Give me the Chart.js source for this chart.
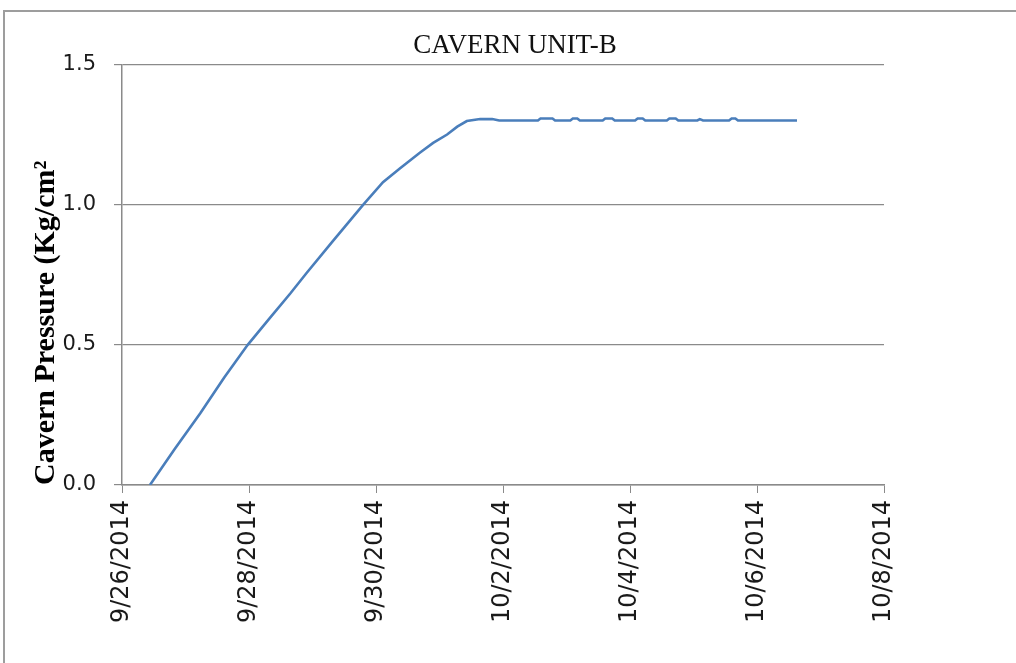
<!DOCTYPE html>
<html>
<head>
<meta charset="utf-8">
<script src="https://cdn.jsdelivr.net/npm/chart.js@4"></script>
<style>
  html, body { margin: 0; padding: 0; background: #fff; overflow: hidden; }
  #wrap { position: relative; width: 1016px; height: 663px; overflow: hidden; }
  #frame { position: absolute; left: 3px; top: 10px; width: 1100px; height: 700px; border: 2px solid #9d9d9d; }
  #chart { position: absolute; left: 0; top: 0; }
</style>
</head>
<body>
<div id="wrap">
  <div id="frame"></div>
  <canvas id="chart" width="1016" height="663"></canvas>
</div>
<script>
// readings, x as Excel serial dates (41908 = 9/26/2014)
const readingDays = [
    41908.44, 41908.83, 41909.23, 41909.61, 41909.98, 41910.33, 41910.65, 41910.91,
    41911.32, 41911.56, 41911.80, 41912.11, 41912.38, 41912.69, 41912.90, 41913.12,
    41913.28, 41913.43, 41913.64, 41913.83, 41913.94,
    41914.55, 41914.59, 41914.78, 41914.82,
    41915.06, 41915.10, 41915.17, 41915.21,
    41915.57, 41915.61, 41915.72, 41915.76,
    41916.08, 41916.12, 41916.20, 41916.24,
    41916.58, 41916.62, 41916.72, 41916.76,
    41917.06, 41917.10, 41917.15,
    41917.56, 41917.60, 41917.66, 41917.70,
    41918.63
];
const pressure = [
    0.00, 0.128, 0.255, 0.383, 0.50, 0.596, 0.683, 0.757,
    0.87, 0.935, 1.00, 1.08, 1.13, 1.185, 1.22, 1.25,
    1.278, 1.298, 1.305, 1.305, 1.30,
    1.30, 1.307, 1.307, 1.30,
    1.30, 1.307, 1.307, 1.30,
    1.30, 1.307, 1.307, 1.30,
    1.30, 1.307, 1.307, 1.30,
    1.30, 1.307, 1.307, 1.30,
    1.30, 1.305, 1.30,
    1.30, 1.307, 1.307, 1.30,
    1.30
];
const xRange = [41908, 41920];   // 9/26/2014 .. 10/8/2014
const xStep = 2;
const yRange = [0, 1.5];
const yStep = 0.5;

function serialToDate(serial) {
    const d = new Date(Date.UTC(1899, 11, 30) + Math.round(serial) * 86400000);
    return (d.getUTCMonth() + 1) + '/' + d.getUTCDate() + '/' + d.getUTCFullYear();
}

const gridGray = '#8a8a8a';

new Chart(document.getElementById('chart').getContext('2d'), {
    type: 'line',
    data: {
        datasets: [{
            data: readingDays.map((d, i) => ({ x: d, y: pressure[i] })),
            borderColor: '#4a7ebb',
            borderWidth: 2.6,
            pointRadius: 0,
            tension: 0,
            fill: false
        }]
    },
    options: {
        responsive: false,
        animation: false,
        layout: { padding: { left: 14, right: 0, top: 0, bottom: 0 } },
        plugins: {
            legend: { display: false },
            tooltip: { enabled: false },
            title: {
                display: true,
                text: 'CAVERN UNIT-B',
                color: '#111',
                font: { family: 'Liberation Serif', size: 27, weight: 'normal' },
                padding: { top: 30, bottom: 2 }
            }
        },
        scales: {
            x: {
                type: 'linear',
                min: xRange[0],
                max: xRange[1],
                afterFit: (scale) => { scale.height = 178; },
                ticks: {
                    stepSize: xStep,
                    minRotation: 90,
                    maxRotation: 90,
                    padding: 7,
                    color: '#1a1a1a',
                    font: { family: 'DejaVu Sans', size: 24 },
                    callback: (v) => serialToDate(v)
                },
                grid: { drawOnChartArea: false, drawTicks: true, tickLength: 8, color: gridGray },
                border: { color: gridGray, width: 1.5 }
            },
            y: {
                min: yRange[0],
                max: yRange[1],
                afterFit: (scale) => { scale.width = 108; },
                ticks: {
                    stepSize: yStep,
                    padding: 18,
                    color: '#1a1a1a',
                    font: { family: 'DejaVu Sans', size: 21 },
                    callback: (v) => v.toFixed(1)
                },
                grid: { color: gridGray, lineWidth: 1.2, tickLength: 8 },
                border: { color: gridGray, width: 1.5 },
                title: {
                    display: true,
                    text: 'Cavern Pressure (Kg/cm\u00b2',
                    align: 'start',
                    color: '#000',
                    font: { family: 'Liberation Serif', size: 30, weight: 'bold' },
                    padding: { top: 14, bottom: 0 }
                }
            },
            // empty right-hand space, keeps the title centred on the full frame
            yRight: {
                position: 'right',
                min: yRange[0],
                max: yRange[1],
                afterFit: (scale) => { scale.width = 132; },
                ticks: { display: false },
                grid: { display: false },
                border: { display: false }
            }
        }
    }
});
</script>
</body>
</html>
